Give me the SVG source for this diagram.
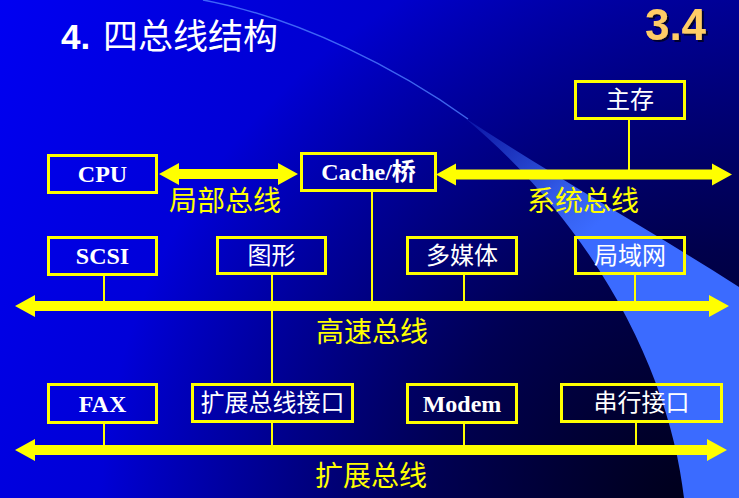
<svg xmlns="http://www.w3.org/2000/svg" width="739" height="498" viewBox="0 0 739 498">
  <defs>
    <linearGradient id="bg" gradientUnits="userSpaceOnUse" x1="0" y1="0" x2="739" y2="300">
      <stop offset="0" stop-color="#0000f2"/>
      <stop offset="1" stop-color="#0000a0"/>
    </linearGradient>
    <radialGradient id="shade" gradientUnits="userSpaceOnUse" cx="700" cy="520" r="600">
      <stop offset="0" stop-color="#000010" stop-opacity="0.95"/>
      <stop offset="0.45" stop-color="#000010" stop-opacity="0.6"/>
      <stop offset="1" stop-color="#000010" stop-opacity="0"/>
    </radialGradient>
    <linearGradient id="wedge" gradientUnits="userSpaceOnUse" x1="470" y1="120" x2="580" y2="240">
      <stop offset="0" stop-color="#3b6bff" stop-opacity="0.2"/>
      <stop offset="0.7" stop-color="#3b6bff" stop-opacity="0.85"/>
      <stop offset="1" stop-color="#3b6bff" stop-opacity="1"/>
    </linearGradient>
    <filter id="shadow" x="-10%" y="-10%" width="130%" height="130%">
      <feDropShadow dx="2" dy="2" stdDeviation="0.6" flood-color="#000022" flood-opacity="0.85"/>
    </filter>
    <style>
      .box { fill: none; stroke: #ffff00; stroke-width: 3; }
      .bus { fill: #ffff00; }
      .link { stroke: #ffff00; stroke-width: 2; fill: none; }
      .lat { font-family: "Liberation Serif", "Noto Sans CJK SC", serif; font-weight: bold; font-size: 24px; fill: #ffffff; text-anchor: middle; }
      .cjk { font-family: "Noto Sans CJK SC", sans-serif; font-size: 24px; fill: #ffffff; text-anchor: middle; }
      .lbl { font-family: "Noto Sans CJK SC", sans-serif; font-size: 28px; fill: #ffff00; text-anchor: middle; }
    </style>
  </defs>

  <!-- background -->
  <rect x="0" y="0" width="739" height="498" fill="url(#bg)"/>
  <rect x="0" y="0" width="739" height="498" fill="url(#shade)"/>
  <path d="M 203,0 C 300,18 400,70 468,119" fill="none" stroke="#4d7dff" stroke-width="1.5" stroke-opacity="0.8"/>
  <path d="M 465,118 C 560,180 650,230 739,287 L 739,498 L 684,498 C 672,390 610,240 465,118 Z" fill="url(#wedge)"/>

  <!-- title -->
  <text x="61" y="49" fill="#ffffff" font-size="35"><tspan font-family="Liberation Sans, sans-serif" font-weight="bold">4.</tspan><tspan x="103" font-family="Noto Sans CJK SC, sans-serif">四总线结构</tspan></text>
  <text x="675.5" y="40" font-family="Liberation Sans, sans-serif" font-weight="bold" font-size="44" fill="#ffcc66" text-anchor="middle" filter="url(#shadow)">3.4</text>

  <!-- connectors -->
  <g id="connectors">
    <polygon class="bus" points="159,174 179,163 179,169 278,169 278,163 298,174 278,185 278,179 179,179 179,185"/>
    <polygon class="bus" points="436,174.5 456,163.5 456,169.5 712,169.5 712,163.5 732,174.5 712,185.5 712,179.5 456,179.5 456,185.5"/>
    <polygon class="bus" points="15,306 35,295 35,301 709,301 709,295 729,306 709,317 709,311 35,311 35,317"/>
    <polygon class="bus" points="15,450 35,439 35,445 707,445 707,439 727,450 707,461 707,455 35,455 35,461"/>
    <line class="link" x1="629" y1="120" x2="629" y2="170"/>
    <line class="link" x1="372" y1="192" x2="372" y2="302"/>
    <line class="link" x1="104" y1="276" x2="104" y2="302"/>
    <line class="link" x1="272" y1="275" x2="272" y2="383"/>
    <line class="link" x1="464" y1="275" x2="464" y2="302"/>
    <line class="link" x1="635" y1="275" x2="635" y2="302"/>
    <line class="link" x1="104" y1="424" x2="104" y2="446"/>
    <line class="link" x1="272" y1="423" x2="272" y2="446"/>
    <line class="link" x1="464" y1="424" x2="464" y2="446"/>
    <line class="link" x1="636" y1="423" x2="636" y2="446"/>
    <text class="lbl" x="225" y="211">局部总线</text>
    <text class="lbl" x="583" y="211">系统总线</text>
    <text class="lbl" x="372" y="342">高速总线</text>
    <text class="lbl" x="371" y="486">扩展总线</text>
  </g>

  <!-- nodes -->
  <g id="cpu"><rect class="box" x="48.5" y="155.5" width="108" height="37"/><text class="lat" x="102.5" y="182">CPU</text></g>
  <g id="cache"><rect class="box" x="301.5" y="153.5" width="134" height="37"/><text class="lat" x="368.5" y="180">Cache/桥</text></g>
  <g id="mem"><rect class="box" x="575.5" y="81.5" width="109" height="37"/><text class="cjk" x="630" y="108">主存</text></g>
  <g id="scsi"><rect class="box" x="48.5" y="237.5" width="108" height="37"/><text class="lat" x="102.5" y="264">SCSI</text></g>
  <g id="graphics"><rect class="box" x="217.5" y="237.5" width="108" height="36"/><text class="cjk" x="271.5" y="264">图形</text></g>
  <g id="multimedia"><rect class="box" x="407.5" y="237.5" width="109" height="36"/><text class="cjk" x="462" y="264">多媒体</text></g>
  <g id="lan"><rect class="box" x="575.5" y="237.5" width="109" height="36"/><text class="cjk" x="630" y="264">局域网</text></g>
  <g id="fax"><rect class="box" x="48.5" y="384.5" width="108" height="38"/><text class="lat" x="102.5" y="412">FAX</text></g>
  <g id="expif"><rect class="box" x="192.5" y="384.5" width="160" height="37"/><text class="cjk" x="272.5" y="411">扩展总线接口</text></g>
  <g id="modem"><rect class="box" x="407.5" y="384.5" width="109" height="38"/><text class="lat" x="462" y="412">Modem</text></g>
  <g id="serial"><rect class="box" x="561.5" y="384.5" width="160" height="37"/><text class="cjk" x="641.5" y="411">串行接口</text></g>
</svg>
